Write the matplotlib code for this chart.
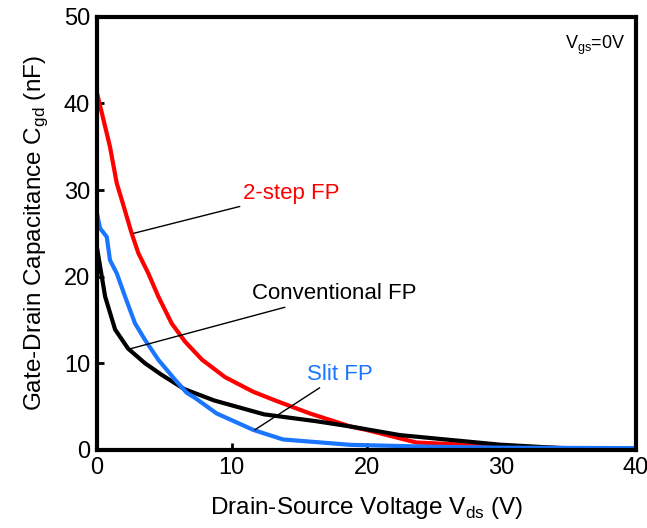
import numpy as np
import matplotlib.pyplot as plt

plt.rcParams['font.family'] = ['Liberation Sans', 'DejaVu Sans']

# readings (V, nF)
v_red = [0, 0.96, 1.46, 1.83, 2.57, 3.07, 3.8, 4.55, 5.54, 6.53, 7.8, 9.5, 11.6, 13.4, 15.8, 18.8, 20.0, 23.7, 29.9, 35, 40]
c_red = [41.2, 35.0, 30.8, 28.9, 25.0, 22.7, 20.4, 17.7, 14.6, 12.5, 10.4, 8.4, 6.7, 5.6, 4.2, 2.7, 2.3, 0.85, 0.4, 0.2, 0.1]

v_blk = [0, 0.6, 1.34, 2.3, 3.56, 4.8, 6.5, 8.7, 12.4, 16.3, 18.8, 22.5, 29.9, 35, 40]
c_blk = [23.3, 17.7, 13.9, 11.7, 10.0, 8.66, 7.0, 5.7, 4.1, 3.3, 2.7, 1.7, 0.6, 0.15, 0.1]

v_blu = [0, 0.22, 0.72, 0.96, 1.46, 2.08, 2.82, 3.56, 4.55, 5.79, 6.65, 7.27, 8.88, 11.6, 13.8, 18.8, 25, 30, 40]
c_blu = [27.3, 25.6, 24.6, 21.9, 20.4, 17.7, 14.6, 12.7, 10.4, 8.1, 6.6, 6.0, 4.2, 2.3, 1.2, 0.58, 0.35, 0.25, 0.2]

fig = plt.figure(figsize=(6.47, 5.28), dpi=100)
ax = fig.add_axes([0.150, 0.148, 0.833, 0.820])

ax.plot(v_red, c_red, color='#ff0000', lw=3)
ax.plot(v_blk, c_blk, color='black', lw=3)
ax.plot(v_blu, c_blu, color='#1a75ff', lw=3)

ax.set_xlim(0, 40)
ax.set_ylim(0, 50)
ax.set_xticks([0, 10, 20, 30, 40])
ax.set_yticks([0, 10, 20, 30, 40, 50])
ax.tick_params(direction='in', length=5, width=2, labelsize=17, pad=5)
for s in ax.spines.values():
    s.set_linewidth(3)

ax.set_xlabel('Drain-Source Voltage V$_{\\mathregular{ds}}$ (V)', fontsize=17.5, labelpad=12)
ax.set_ylabel('Gate-Drain Capacitance C$_{\\mathregular{gd}}$ (nF)', fontsize=17.5, labelpad=10)

ax.annotate('2-step FP', xy=(2.7, 25.0), xytext=(10.8, 29.6), color='#ff0000',
            fontsize=16, va='center',
            arrowprops=dict(arrowstyle='-', color='black', lw=1, shrinkA=0, shrinkB=0))
ax.annotate('Conventional FP', xy=(2.3, 11.6), xytext=(11.5, 18.0), color='black',
            fontsize=16, va='center',
            arrowprops=dict(arrowstyle='-', color='black', lw=1, shrinkA=0, shrinkB=0))
ax.annotate('Slit FP', xy=(11.7, 2.3), xytext=(15.6, 8.7), color='#1a75ff',
            fontsize=16, va='center',
            arrowprops=dict(arrowstyle='-', color='black', lw=1, shrinkA=0, shrinkB=0))

ax.text(0.98, 0.935, 'V$_{\\mathregular{gs}}$=0V', transform=ax.transAxes,
        ha='right', va='center', fontsize=13)

plt.savefig('out.png', dpi=100)
